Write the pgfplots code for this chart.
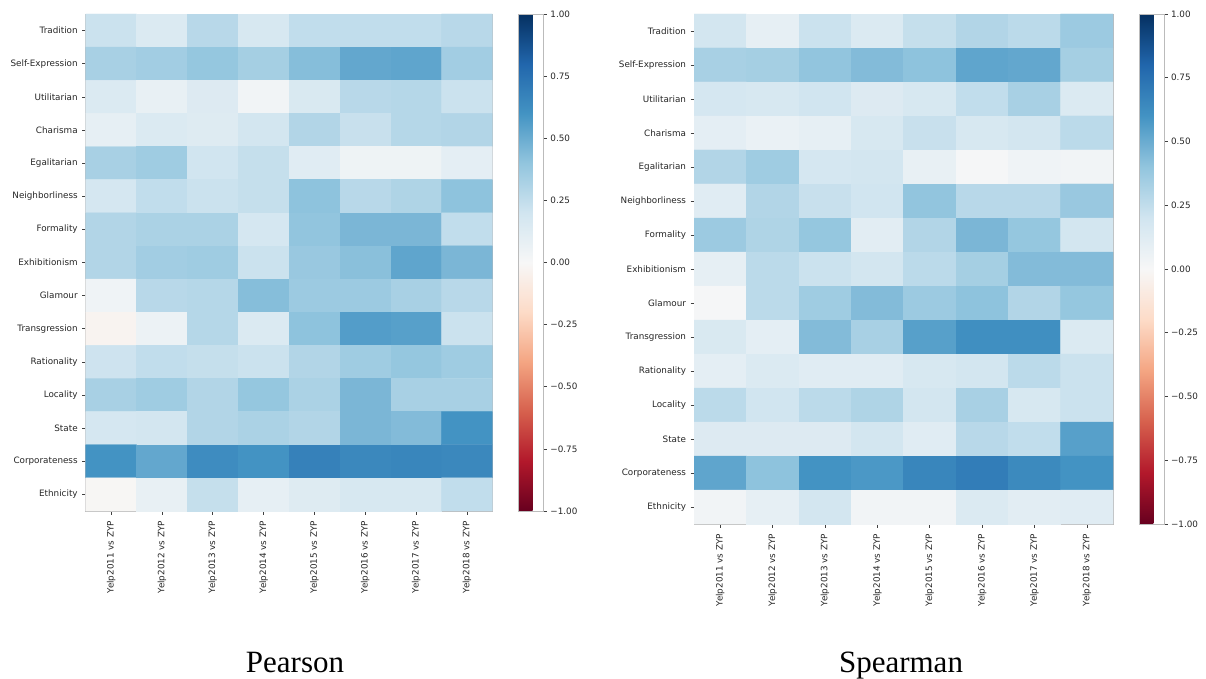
\documentclass[border=0pt]{standalone}
\usepackage{fontspec}
\setmainfont{DejaVu Sans}
\newfontfamily\titlefont{Liberation Serif}
\usepackage{pgfplots}
\usepackage{pgfplotstable}
\pgfplotsset{compat=1.18}
\definecolor{ticktext}{HTML}{262626}
\definecolor{framegray}{HTML}{BBBBBB}

% Pearson: rows Tradition..Ethnicity (y=0..14), cols Yelp2011..Yelp2018 (x=0..7)
\pgfplotstableread{
x y c
0 0 0.22
1 0 0.15
2 0 0.28
3 0 0.17
4 0 0.25
5 0 0.25
6 0 0.25
7 0 0.28
0 1 0.33
1 1 0.35
2 1 0.39
3 1 0.34
4 1 0.43
5 1 0.52
6 1 0.53
7 1 0.35
0 2 0.15
1 2 0.08
2 2 0.14
3 2 0.03
4 2 0.16
5 2 0.28
6 2 0.29
7 2 0.22
0 3 0.09
1 3 0.15
2 3 0.13
3 3 0.19
4 3 0.30
5 3 0.23
6 3 0.29
7 3 0.30
0 4 0.33
1 4 0.36
2 4 0.20
3 4 0.24
4 4 0.12
5 4 0.05
6 4 0.05
7 4 0.10
0 5 0.18
1 5 0.25
2 5 0.22
3 5 0.24
4 5 0.41
5 5 0.28
6 5 0.31
7 5 0.41
0 6 0.30
1 6 0.32
2 6 0.32
3 6 0.18
4 6 0.40
5 6 0.46
6 6 0.46
7 6 0.25
0 7 0.30
1 7 0.35
2 7 0.36
3 7 0.22
4 7 0.38
5 7 0.42
6 7 0.53
7 7 0.46
0 8 0.04
1 8 0.28
2 8 0.29
3 8 0.43
4 8 0.37
5 8 0.37
6 8 0.33
7 8 0.28
0 9 -0.03
1 9 0.06
2 9 0.29
3 9 0.15
4 9 0.41
5 9 0.56
6 9 0.55
7 9 0.22
0 10 0.21
1 10 0.25
2 10 0.24
3 10 0.22
4 10 0.30
5 10 0.36
6 10 0.39
7 10 0.36
0 11 0.33
1 11 0.36
2 11 0.30
3 11 0.39
4 11 0.32
5 11 0.46
6 11 0.33
7 11 0.33
0 12 0.18
1 12 0.19
2 12 0.30
3 12 0.32
4 12 0.30
5 12 0.46
6 12 0.44
7 12 0.60
0 13 0.60
1 13 0.52
2 13 0.63
3 13 0.60
4 13 0.68
5 13 0.65
6 13 0.66
7 13 0.65
0 14 -0.01
1 14 0.08
2 14 0.24
3 14 0.09
4 14 0.13
5 14 0.17
6 14 0.17
7 14 0.25
}\pearson

% Spearman
\pgfplotstableread{
x y c
0 0 0.19
1 0 0.09
2 0 0.22
3 0 0.15
4 0 0.24
5 0 0.30
6 0 0.27
7 0 0.37
0 1 0.33
1 1 0.34
2 1 0.40
3 1 0.44
4 1 0.41
5 1 0.53
6 1 0.52
7 1 0.34
0 2 0.18
1 2 0.17
2 2 0.20
3 2 0.14
4 2 0.17
5 2 0.25
6 2 0.33
7 2 0.15
0 3 0.10
1 3 0.07
2 3 0.09
3 3 0.17
4 3 0.23
5 3 0.17
6 3 0.19
7 3 0.27
0 4 0.30
1 4 0.36
2 4 0.18
3 4 0.19
4 4 0.08
5 4 0.01
6 4 0.04
7 4 0.03
0 5 0.12
1 5 0.30
2 5 0.23
3 5 0.20
4 5 0.40
5 5 0.28
6 5 0.28
7 5 0.38
0 6 0.37
1 6 0.31
2 6 0.39
3 6 0.11
4 6 0.30
5 6 0.46
6 6 0.39
7 6 0.19
0 7 0.09
1 7 0.27
2 7 0.22
3 7 0.19
4 7 0.27
5 7 0.34
6 7 0.44
7 7 0.44
0 8 0.01
1 8 0.27
2 8 0.36
3 8 0.44
4 8 0.37
5 8 0.41
6 8 0.30
7 8 0.39
0 9 0.16
1 9 0.10
2 9 0.44
3 9 0.33
4 9 0.55
5 9 0.62
6 9 0.62
7 9 0.15
0 10 0.10
1 10 0.15
2 10 0.12
3 10 0.12
4 10 0.17
5 10 0.19
6 10 0.27
7 10 0.22
0 11 0.27
1 11 0.20
2 11 0.27
3 11 0.31
4 11 0.19
5 11 0.33
6 11 0.17
7 11 0.22
0 12 0.14
1 12 0.14
2 12 0.14
3 12 0.19
4 12 0.12
5 12 0.28
6 12 0.25
7 12 0.55
0 13 0.53
1 13 0.41
2 13 0.60
3 13 0.58
4 13 0.66
5 13 0.70
6 13 0.64
7 13 0.60
0 14 0.03
1 14 0.09
2 14 0.19
3 14 0.03
4 14 0.03
5 14 0.15
6 14 0.11
7 14 0.12
}\spearman

\newcommand{\tickfont}{\fontsize{8.8}{10}\selectfont}

\pgfplotsset{
  colormap={RdBu}{rgb255=(103,0,31) rgb255=(178,24,43) rgb255=(214,96,77)
    rgb255=(244,165,130) rgb255=(253,219,199) rgb255=(247,247,247)
    rgb255=(209,229,240) rgb255=(146,197,222) rgb255=(67,147,195)
    rgb255=(33,102,172) rgb255=(5,48,97)},
  heat/.style={
    scale only axis,
    colormap name=RdBu,
    point meta min=-1, point meta max=1,
    y dir=reverse,
    xmin=-0.5, xmax=7.5, ymin=-0.5, ymax=14.5,
    xtick={0,1,2,3,4,5,6,7},
    ytick={0,1,2,3,4,5,6,7,8,9,10,11,12,13,14},
    xticklabels={Yelp2011 vs ZYP,Yelp2012 vs ZYP,Yelp2013 vs ZYP,Yelp2014 vs ZYP,Yelp2015 vs ZYP,Yelp2016 vs ZYP,Yelp2017 vs ZYP,Yelp2018 vs ZYP},
    yticklabels={Tradition,Self-Expression,Utilitarian,Charisma,Egalitarian,Neighborliness,Formality,Exhibitionism,Glamour,Transgression,Rationality,Locality,State,Corporateness,Ethnicity},
    xticklabel style={rotate=90, anchor=east, font=\tickfont, text=ticktext},
    xticklabel shift=3pt,
    yticklabel style={font=\tickfont, text=ticktext},
    yticklabel shift=1pt,
    tick align=outside, tick pos=left,
    major tick length=3.5pt,
    every tick/.style={black!75, line width=0.6pt},
    axis line style={framegray, line width=0.8pt},
    colorbar,
    colorbar style={
      width=25pt,
      at={(parent axis.north east)}, anchor=north west, xshift=17.5pt,
      ytick={-1,-0.75,-0.5,-0.25,0,0.25,0.5,0.75,1},
      yticklabels={−1.00,−0.75,−0.50,−0.25,0.00,0.25,0.50,0.75,1.00},
      yticklabel style={font=\tickfont, text=ticktext},
      ytick pos=right, yticklabel pos=right,
      tick align=outside, major tick length=3.5pt,
      every tick/.style={black!75, line width=0.6pt},
      axis line style={framegray, line width=0.8pt},
    },
  },
}

\begin{document}
\begin{tikzpicture}
\useasboundingbox (0,0) rectangle (1206pt,679pt);

\begin{axis}[heat, at={(85.7pt,168pt)}, anchor=south west,
  width=406.7pt, height=497pt]
  \addplot[matrix plot*, mesh/cols=8, point meta=explicit] table[x=x, y=y, meta=c] {\pearson};
\end{axis}

\begin{axis}[heat, at={(694pt,155pt)}, anchor=south west,
  width=419pt, height=510pt]
  \addplot[matrix plot*, mesh/cols=8, point meta=explicit] table[x=x, y=y, meta=c] {\spearman};
\end{axis}

\node[font=\titlefont\fontsize{31}{36}\selectfont, anchor=base] at (295pt,6.5pt) {Pearson};
\node[font=\titlefont\fontsize{31}{36}\selectfont, anchor=base] at (901pt,6.5pt) {Spearman};
\end{tikzpicture}
\end{document}
